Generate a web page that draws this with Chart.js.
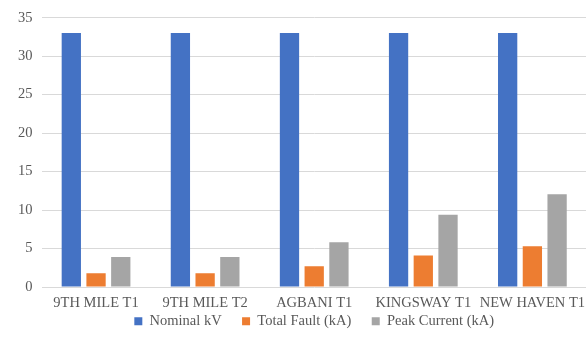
<!DOCTYPE html>
<html>
<head>
<meta charset="utf-8">
<script src="https://cdn.jsdelivr.net/npm/chart.js@4/dist/chart.umd.min.js"></script>
<style>
  html, body { margin: 0; padding: 0; background: #fff; overflow: hidden; }
  #wrap { width: 594px; height: 343px; }
</style>
</head>
<body>
<div id="wrap"><canvas id="chart" width="594" height="343"></canvas></div>
<script>
const substations = ["9TH MILE T1", "9TH MILE T2", "AGBANI T1", "KINGSWAY T1", "NEW HAVEN T1"];
const nominalKv = [33, 33, 33, 33, 33];
const totalFault = [1.8, 1.8, 2.7, 4.1, 5.3];
const peakCurrent = [3.9, 3.9, 5.8, 9.4, 12.05];

const textColor = "#595959";
const serif = "'Liberation Serif', 'Times New Roman', serif";

new Chart(document.querySelector("#chart").getContext("2d"), {
  type: "bar",
  data: {
    labels: substations,
    datasets: [
      { label: "Nominal kV", data: nominalKv, backgroundColor: "#4472C4" },
      { label: "Total Fault (kA)", data: totalFault, backgroundColor: "#ED7D31" },
      { label: "Peak Current (kA)", data: peakCurrent, backgroundColor: "#A5A5A5" },
    ],
  },
  options: {
    responsive: false,
    animation: false,
    devicePixelRatio: 1,
    layout: { padding: { top: 7, left: 9, right: 0, bottom: 4.5 } },
    datasets: {
      bar: { barPercentage: 0.78, categoryPercentage: 0.68 },
    },
    scales: {
      x: {
        grid: { display: false, drawTicks: false },
        border: { display: false },
        ticks: {
          color: textColor,
          font: { family: serif, size: 14.5, lineHeight: 1 },
          maxRotation: 0,
          autoSkip: false,
          padding: 9,
        },
        // just enough room for one line of labels, legend goes right under
        afterFit: (scale) => { scale.height = 24; },
      },
      y: {
        min: 0,
        max: 35,
        ticks: { stepSize: 5, color: textColor, font: { family: serif, size: 14.5 }, padding: 9 },
        grid: { color: "#d9d9d9", lineWidth: 1, drawTicks: false },
        border: { display: false },
      },
    },
    plugins: {
      legend: {
        position: "bottom",
        fullSize: false,
        labels: {
          color: textColor,
          font: { family: serif, size: 14.5, lineHeight: 1 },
          boxWidth: 8,
          boxHeight: 8,
          padding: 3,
          // wider gap between legend entries without growing the legend height
          generateLabels(chart) {
            const items = Chart.defaults.plugins.legend.labels.generateLabels(chart);
            items.forEach((item, i) => {
              if (i < items.length - 1) item.text += "\u2002\u2002\u2009";
            });
            return items;
          },
        },
      },
      tooltip: { enabled: false },
    },
  },
});
</script>
</body>
</html>
